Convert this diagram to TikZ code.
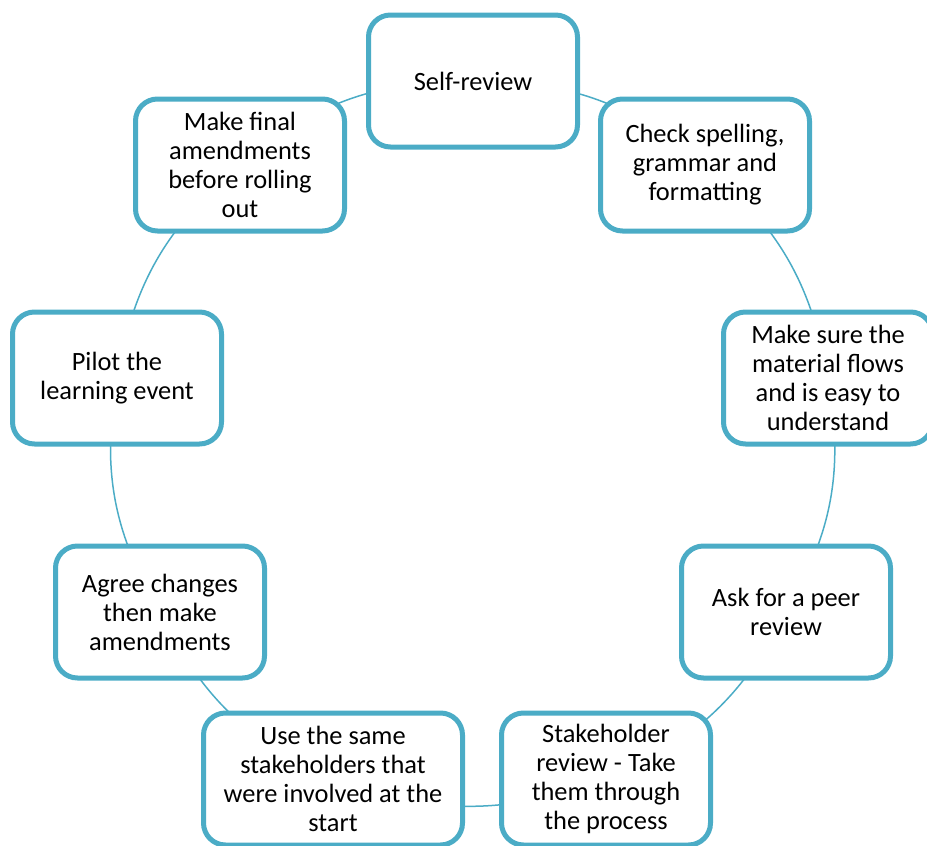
\documentclass[tikz,border=0pt]{standalone}
\usepackage{fontspec}
\setmainfont{Carlito}
\usetikzlibrary{backgrounds}
\definecolor{tealfive}{HTML}{4BACC6}
\tikzset{
  stage/.style={draw=tealfive, line width=5pt, fill=white, rounded corners=22pt,
    align=center, minimum height=132pt, inner sep=2pt,
    font=\fontsize{26.4}{29}\selectfont},
  link/.style={draw=tealfive, line width=1.5pt}
}
\begin{document}
\begin{tikzpicture}[x=1pt,y=1pt]
\useasboundingbox (0,-846) rectangle (927,0);
% stages, clockwise from the top
\foreach \n/\x/\y/\w/\t in {
  self/473/81/209/{Self-review},
  check/705/165/209/{Check spelling,\\grammar and\\formatting},
  flow/828/378/209/{Make sure the\\material flows\\and is easy to\\understand},
  peer/786/612/209/{Ask for a peer\\review},
  stake/606/779/209/{Stakeholder\\review - Take\\them through\\the process},
  same/333/779/259/{Use the same\\stakeholders that\\were involved at the\\start},
  agree/160/612/209/{Agree changes\\then make\\amendments},
  pilot/117/378/209/{Pilot the\\learning event},
  final/240/165/209/{Make final\\amendments\\before rolling\\out}}
  {\node[stage, minimum width=\w pt] (\n) at (\x,-\y) {\t};}
% cycle, behind the stages
\begin{scope}[on background layer]
\foreach \a/\b in {self/check,check/flow,flow/peer,peer/stake,stake/same,
  same/agree,agree/pilot,pilot/final,final/self}
  {\draw[link] (\a.center) to[bend left=20] (\b.center);}
\end{scope}
\end{tikzpicture}
\end{document}
